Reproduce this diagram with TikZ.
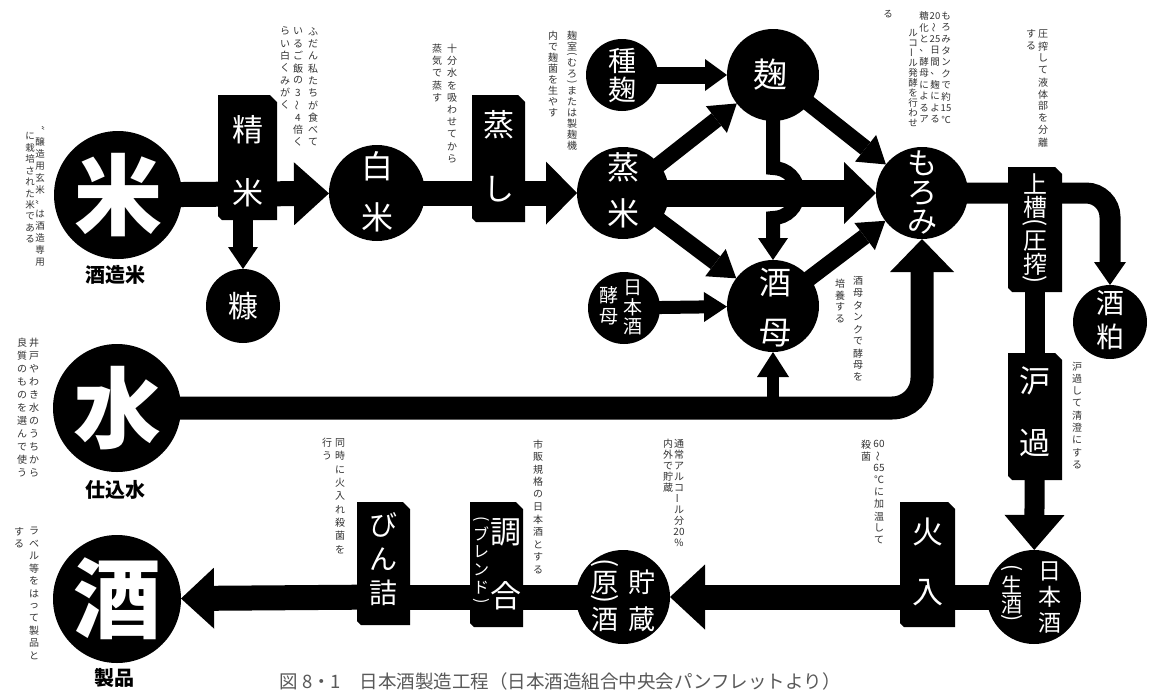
\documentclass[tikz,border=0pt]{standalone}
\usepackage{fontspec}
\setmainfont{Noto Sans CJK JP}
\usepackage{graphicx}
\usetikzlibrary{arrows.meta,calc}
\pgfdeclarelayer{bg}
\pgfsetlayers{bg,main}
\newcommand\VW{\rotatebox{90}{〜}}
\newcommand\VL{\rotatebox{90}{ー}}
\newcommand\VLP{\rotatebox[origin=c]{-90}{(}}
\newcommand\VRP{\rotatebox[origin=c]{-90}{)}}
\makeatletter
\newdimen\vt@s
\newdimen\vt@h
\def\vt@end{\vt@end}
\def\vt@lp{\VLP}
\def\vt@rp{\VRP}
\newcommand\vt[3][0.5]{\vt@s=#2pt \vt@h=#1\vt@s
  \vbox{\offinterlineskip\vt@a#3\vt@end}}
\def\vt@a#1{\ifx\vt@end#1\else\vt@b{#1}\expandafter\vt@a\fi}
\def\vt@b#1{\def\vt@arg{#1}%
  \ifx\vt@arg\vt@lp\vt@cell\vt@h{#1}\else
  \ifx\vt@arg\vt@rp\vt@cell\vt@h{#1}\else
  \vt@cell\vt@s{#1}\fi\fi}
\def\vt@cell#1#2{\vbox to #1{\vss\hbox to 1.05em{\hss#2\hss}\vss}}
\makeatother
\newcommand\fsz[1]{\fontsize{#1}{#1}\selectfont}
\tikzset{
  circ/.style={circle, fill=black, inner sep=0pt, outer sep=0pt, minimum size=#1},
  boxshape/.style={rectangle, inner sep=0pt, outer sep=0pt},
  boxfill/.style={fill=black},
  lbl/.style={text=white, inner sep=0pt},
  blabel/.style={text=black, inner sep=0pt, font=\bfseries\fsz{20}},
  ann/.style={anchor=north, inner sep=0pt, text=black!80, font=\fsz{10}},
  captext/.style={text=black!65, inner sep=0pt, font=\fsz{18.5}},
  conn/.style={draw=black, line width=#1},
  ahead/.style 2 args={-{Triangle[length=#1,width=#2,line width=0pt]}},
}
\newcommand\chbox[5]{%
  \node[boxshape, minimum width=#4pt, minimum height=#5pt] (#1) at (#2,#3) {};
  \fill[boxfill] ([yshift=4pt]#1.south west) -- (#1.north west) -- ([xshift=-7pt]#1.north east)
    -- ([yshift=-7pt]#1.north east) -- (#1.south east) -- ([xshift=4pt]#1.south west) -- cycle;}
\begin{document}
\begin{tikzpicture}[x=1pt,y=-1pt]
\useasboundingbox (0,0) rectangle (1149,689);
\begin{pgfonlayer}{bg}
\fill[white] (0,0) rectangle (1149,689);
\end{pgfonlayer}
% circles
\node[circ=128pt] (kome) at (118,195) {};
\node[circ=96pt] (hakumai) at (377,193) {};
\node[circ=74pt] (nuka) at (243,306) {};
\node[circ=92pt] (mushimai) at (623,193) {};
\node[circ=72pt] (tanekoji) at (622,75) {};
\node[circ=92pt] (koji) at (773,75) {};
\node[circ=92pt] (shubo) at (773,306) {};
\node[circ=72pt] (kobo) at (624,308) {};
\node[circ=92pt] (moromi) at (922,193) {};
\node[circ=74pt] (kasu) at (1110,322) {};
\node[circ=128pt] (mizu) at (117,408) {};
\node[circ=94pt] (nama) at (1034,597) {};
\node[circ=94pt] (chozo) at (623,597) {};
\node[circ=128pt] (sake) at (117,599) {};
% boxes
\chbox{seimai}{247.5}{157.5}{59}{125}
\chbox{mushi}{498.5}{158.5}{53}{127}
\chbox{joso}{1035}{229.5}{54}{125}
\chbox{roka}{1035}{416.5}{54}{127}
\chbox{hiire}{927.5}{564.5}{55}{125}
\chbox{chogo}{496.5}{564.5}{53}{125}
\chbox{binzume}{383.5}{563.5}{53}{123}
% connectors
\begin{pgfonlayer}{bg}
\draw[conn=25pt, ahead={35pt}{63pt}] (kome.center) -- (hakumai);
\draw[conn=20pt, ahead={22pt}{30pt}] (seimai.south -| nuka.center) -- (nuka);
\draw[conn=25pt, ahead={31pt}{63pt}] (hakumai.center) -- (mushimai);
\draw[conn=17pt, ahead={22pt}{32pt}] (tanekoji.center) -- (koji);
\draw[conn=16pt, ahead={26pt}{34pt}] (mushimai.center) -- (koji);
\draw[conn=16pt, ahead={26pt}{34pt}] (koji.center) -- (moromi);
\draw[conn=27pt, ahead={32pt}{62pt}] (mushimai.center) -- (moromi);
\draw[conn=16pt, ahead={26pt}{34pt}] (mushimai.center) -- (shubo);
\draw[conn=16pt, ahead={26pt}{34pt}] (shubo.center) -- (moromi);
\draw[conn=13pt, ahead={23pt}{30pt}] (kobo.center) -- (shubo);
\draw[conn=14pt, ahead={22pt}{30pt}] (koji.center) -- ($(koji.center |- mushimai.center)+(0,-25)$)
   arc[start angle=90, end angle=-90, radius=25pt] -- (shubo);
\draw[conn=23pt, rounded corners=30pt, ahead={33pt}{64pt}] (mizu.center) -- (mizu.center -| moromi.center) -- (moromi);
\draw[conn=12pt, ahead={25pt}{32pt}] (mizu.center -| shubo.center) -- (shubo);
\draw[conn=21pt, rounded corners=24pt, ahead={23pt}{32pt}] (moromi.center) -- (moromi.center -| kasu.center) -- (kasu);
\draw[conn=20pt] (joso.center) -- (roka.center);
\draw[conn=20pt, ahead={35pt}{60pt}] (roka.center) -- (nama);
\draw[conn=25pt] (nama.center) -- (nama.center -| hiire.center);
\draw[conn=25pt, ahead={35pt}{65pt}] (nama.center -| hiire.center) -- (chozo);
\draw[conn=25pt] (chozo.center) -- (chozo.center -| binzume.center);
\draw[conn=25pt, ahead={33pt}{61pt}] (chozo.center -| binzume.center) -- (sake);
\end{pgfonlayer}
% big symbols
\node[lbl, font=\bfseries\fsz{88}] (t-kome) at (kome) {米};
\node[lbl, font=\bfseries\fsz{88}] (t-mizu) at (mizu) {水};
\node[lbl, font=\bfseries\fsz{88}] (t-sake) at (sake) {酒};
\node[blabel] (l-kome) at (115,275) {酒造米};
\node[blabel] (l-mizu) at (115,490) {仕込水};
\node[blabel] (l-sake) at (114,678) {製品};
% circle labels
\node[lbl, font=\fsz{32}] (t-haku) at (377,192) {\vt{51}{白米}};
\node[lbl, font=\fsz{30}] (t-nuka) at (243,306) {糠};
\node[lbl, font=\fsz{32}] (t-mushimai) at (623,190) {\vt{46}{蒸米}};
\node[lbl, font=\fsz{28}] (t-tane) at (622,75) {\vt{29}{種麹}};
\node[lbl, font=\fsz{34}] (t-koji) at (770,75) {麹};
\node[lbl, font=\fsz{32}] (t-shubo) at (775,308) {\vt{50}{酒母}};
\node[lbl, font=\fsz{19}] (t-kobo1) at (633,307) {\vt{19.5}{日本酒}};
\node[lbl, font=\fsz{19}] (t-kobo2) at (609,306) {\vt{22}{酵母}};
\node[lbl, font=\fsz{30}] (t-moromi) at (922,193) {\vt{29.5}{もろみ}};
\node[lbl, font=\fsz{28}] (t-kasu) at (1110,320) {\vt{33}{酒粕}};
\node[lbl, font=\fsz{23}] (t-nama1) at (1050,597) {\vt{26}{日本酒}};
\node[lbl, font=\fsz{21}] (t-nama2) at (1012,595) {\vt{20}{\VLP 生酒\VRP}};
\node[lbl, font=\fsz{27}] (t-chozo1) at (642,601) {\vt{37}{貯蔵}};
\node[lbl, font=\fsz{27}] (t-chozo2) at (605,596) {\vt[0.42]{26}{\VLP 原\VRP 酒}};
% box labels
\node[lbl, font=\fsz{31}] (t-seimai) at (247.5,161) {\vt{63}{精米}};
\node[lbl, font=\fsz{31}] (t-mushi) at (498.5,157) {\vt{65}{蒸し}};
\node[lbl, font=\fsz{24}] (t-joso) at (1035,230) {\vt{23}{上槽\VLP 圧搾\VRP}};
\node[lbl, font=\fsz{31}] (t-roka) at (1035,412) {\vt{62}{沪過}};
\node[lbl, font=\fsz{31}] (t-hiire) at (927.5,562) {\vt{61}{火入}};
\node[lbl, font=\fsz{31}] (t-chogo1) at (506,564) {\vt{64}{調合}};
\node[lbl, font=\fsz{16}] (t-chogo2) at (481,561) {\vt[0.55]{18}{\VLP ブレンド\VRP}};
\node[lbl, font=\fsz{28}] (t-bin) at (383.5,559) {\vt{34}{びん詰}};
% annotations
\node[ann, font=\fsz{9.5}] (a-kome1) at (40,124) {\vt{12}{〝醸造用玄米〟は酒造専用}};
\node[ann, font=\fsz{9.5}] (a-kome2) at (30,130) {\vt{11.5}{に栽培された米である}};
\node[ann] (a-sei1) at (313,25) {\vt{12.3}{ふだん私たちが食べて}};
\node[ann] (a-sei2) at (298,25) {\vt{12.3}{いるご飯の3\VW 4倍く}};
\node[ann] (a-sei3) at (285,25) {\vt{12.3}{らい白くみがく}};
\node[ann] (a-mushi1) at (452,42) {\vt{12.3}{十分水を吸わせてから}};
\node[ann] (a-mushi2) at (437,42) {\vt{12.3}{蒸気で蒸す}};
\node[ann] (a-koji1) at (572,30) {\vt{11}{麹室\VLP むろ\VRP または製麹機}};
\node[ann] (a-koji2) at (553,30) {\vt{11}{内で麹菌を生やす}};
\node[ann, font=\fsz{9.5}] (a-moro1) at (946,10) {\vt{11.5}{もろみタンクで約{15}℃}};
\node[ann, font=\fsz{9.5}] (a-moro2) at (935,10) {\vt{11.5}{{20}\VW{25}日間、麹による}};
\node[ann, font=\fsz{9.5}] (a-moro3) at (924,10) {\vt{11.5}{糖化と、酵母によるア}};
\node[ann, font=\fsz{9.5}] (a-moro4) at (913,28) {\vt{10}{ルコ\VL ル発酵を行わせ}};
\node[ann, font=\fsz{9.5}] (a-moro5) at (888,8) {\vt{11.5}{る}};
\node[ann] (a-joso1) at (1043,28) {\vt{12}{圧搾して液体部を分離}};
\node[ann] (a-joso2) at (1031,28) {\vt{12}{する}};
\node[ann] (a-shubo1) at (858,275) {\vt{12}{酒母タンクで酵母を}};
\node[ann] (a-shubo2) at (840,277) {\vt{12}{培養する}};
\node[ann] (a-roka) at (1077,360) {\vt{12.3}{沪過して清澄にする}};
\node[ann] (a-hiire1) at (879,438) {\vt{12}{{60}\VW{65}℃に加温して}};
\node[ann] (a-hiire2) at (866,438) {\vt{12}{殺菌}};
\node[ann] (a-chozo1) at (679,438) {\vt{11}{通常アルコ\VL ル分{20}\%}};
\node[ann] (a-chozo2) at (668,438) {\vt{11}{内外で貯蔵}};
\node[ann] (a-chogo) at (538,438) {\vt{12.5}{市販規格の日本酒とする}};
\node[ann] (a-bin1) at (340,436) {\vt{13.3}{同時に火入れ殺菌を}};
\node[ann] (a-bin2) at (327,436) {\vt{13.3}{行う}};
\node[ann] (a-sake1) at (34,525) {\vt{12.4}{ラベル等をはって製品と}};
\node[ann] (a-sake2) at (19,525) {\vt{12.4}{する}};
\node[ann] (a-mizu1) at (34,336) {\vt{13}{井戸やわき水のうちから}};
\node[ann] (a-mizu2) at (22,336) {\vt{13}{良質のものを選んで使う}};
% caption
\node[captext] (caption) at (560,681) {図 8・1\quad 日本酒製造工程（日本酒造組合中央会パンフレットより）};
\end{tikzpicture}
\end{document}
